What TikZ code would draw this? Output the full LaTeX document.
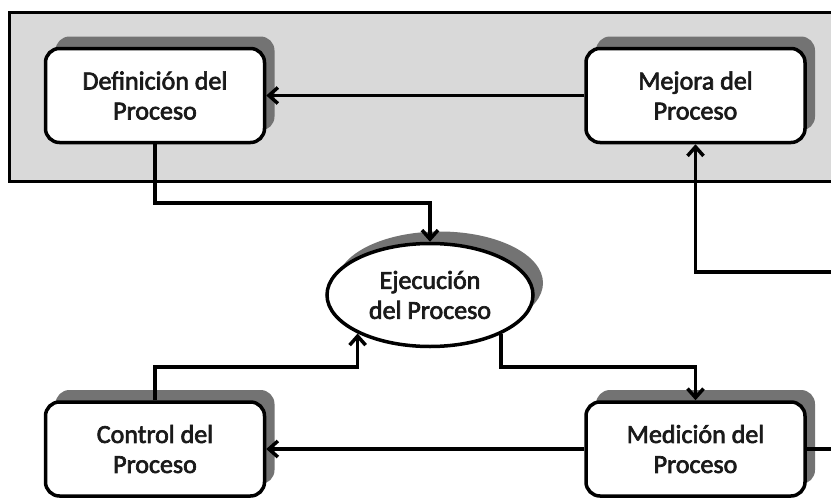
\documentclass[tikz,border=0pt]{standalone}
\usepackage{fontspec}
\setmainfont{Carlito}
\newfontfamily\labelfont{Carlito}[FakeBold=2.6]
\usetikzlibrary{arrows.meta,shapes.geometric,shadows,calc}
\definecolor{panelgray}{HTML}{D9D9D9}
\definecolor{shadowgray}{HTML}{737373}
\definecolor{inkcol}{HTML}{1A1A1A}
\begin{document}
\begin{tikzpicture}[x=1pt,y=-1pt,
  txt/.style={align=center, text=inkcol, font=\labelfont\fontsize{26}{30}\selectfont, inner sep=0pt},
  sh/.style={general shadow={fill=shadowgray, shadow xshift=10pt, shadow yshift=12pt}},
  box/.style={txt, sh, draw=black, line width=3.5pt, rounded corners=14pt, fill=white,
              minimum width=219pt, minimum height=94pt},
  oval/.style={txt, sh, ellipse, draw=black, line width=3.5pt, fill=white,
              minimum width=206pt, minimum height=103pt},
  conn/.style={draw=black, line width=3.5pt},
  arr/.style={conn, -{Straight Barb[length=9pt,width=16pt]}},
  panel/.style={fill=panelgray, draw=black, line width=3pt}
]
\useasboundingbox (0,0) rectangle (831,498);
\clip (0,0) rectangle (831,498);

\coordinate (pnw) at (9,12);
\coordinate (pse) at (860,181);
\path[panel] (pnw) rectangle (pse);

\node[box]  (D) at (155,95.5)   {Definición del\\Proceso};
\node[box]  (J) at (695.5,95.5) {Mejora del\\Proceso};
\node[oval] (E) at (430,295)    {Ejecución\\del Proceso};
\node[box]  (C) at (155,449)    {Control del\\Proceso};
\node[box]  (M) at (695.5,449)  {Medición del\\Proceso};

\coordinate (topbus) at (0,203);
\coordinate (lowbus) at (0,367);
\coordinate (rightin) at (860,272);
\coordinate (e1) at (E.208);
\coordinate (e2) at (E.331);

\draw[arr] (J.west) -- (D.east);
\draw[arr] (M.west) -- (C.east);
\draw[arr] (D.south) |- (topbus -| E.north) -- (E.north);
\draw[arr] (C.north) |- (lowbus -| e1) -- (e1);
\draw[arr] (e2) |- (lowbus -| M.north) -- (M.north);
\draw[arr] (rightin) -| (J.south);
\draw[conn] (M.east) -- (M.east -| rightin);
\end{tikzpicture}
\end{document}
